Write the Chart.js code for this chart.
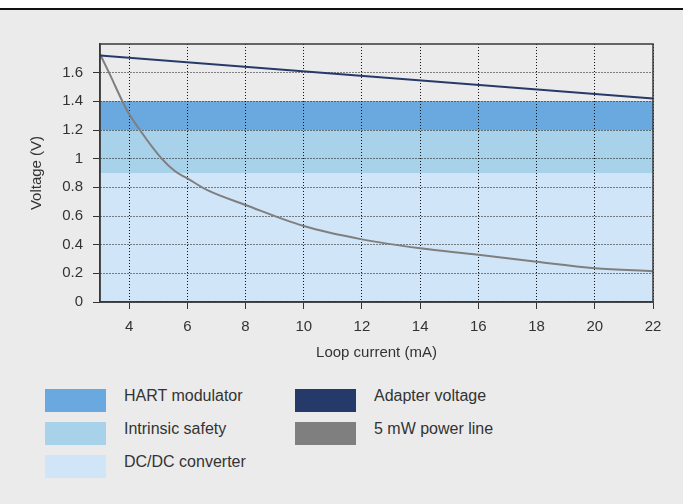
<!DOCTYPE html>
<html>
<head>
<meta charset="utf-8">
<script src="https://cdn.jsdelivr.net/npm/chart.js@4/dist/chart.umd.min.js"></script>
<style>
  html, body { margin: 0; padding: 0; background: #fff; }
  body { width: 683px; height: 504px; position: relative; overflow: hidden;
         font-family: "Liberation Sans", Arial, sans-serif; color: #333; }
  #panel { position: absolute; left: 0; top: 8px; width: 683px; height: 496px;
           border-top: 2px solid #111; background: #ebebeb; }
  #wrap { position: absolute; left: 0; top: 10px; width: 683px; height: 360px; }
  .sw { position: absolute; width: 61px; height: 23px; }
  .lbl { position: absolute; font-size: 16px; line-height: 16px; color: #333; white-space: nowrap; }
</style>
</head>
<body>
<div id="panel"></div>
<div id="wrap"><canvas id="chart"></canvas></div>
<div id="legend"></div>
<script>
// bands (V)
const bandNames = ['HART modulator', 'Intrinsic safety', 'DC/DC converter'];
const bandTops = [1.4, 1.2, 0.9];
const bandColors = ['#6aa8e0', '#a8d1ea', '#d0e5f8'];

// loop current range (mA) and tick labels
const xRange = [3, 22];
const xTicks = [4, 6, 8, 10, 12, 14, 16, 18, 20, 22];
const yTicks = [0, 0.2, 0.4, 0.6, 0.8, 1, 1.2, 1.4, 1.6];

// adapter voltage: straight line
const adapterX = [3, 22];
const adapterY = [1.72, 1.42];

// 5 mW power line
const powerX = [3, 3.31, 3.77, 3.92, 4.37, 5.12, 5.58, 6, 6.69, 8, 10, 12, 14, 16, 18, 20, 22];
const powerY = [1.73, 1.6, 1.4, 1.34, 1.2, 1.0, 0.912, 0.863, 0.78, 0.677, 0.53, 0.437, 0.375, 0.33, 0.28, 0.235, 0.215];

const lineNames = ['Adapter voltage', '5 mW power line'];
const lineColors = ['#263a6a', '#7f7f7f'];

const pts = (xs, ys) => xs.map((x, i) => ({ x, y: ys[i] }));

// frame around the plot area (axes only draw left/bottom)
const frame = {
    id: 'frame',
    afterDraw(chart) {
        const { ctx, chartArea: a } = chart;
        ctx.save();
        ctx.strokeStyle = '#3a3a3a';
        ctx.lineWidth = 1.5;
        ctx.strokeRect(a.left, a.top, a.right - a.left, a.bottom - a.top);
        ctx.restore();
    },
};

// datasets drawn last-index-first, so the widest band goes at the end
const bandSets = bandNames.map((name, i) => ({
    label: name,
    data: pts(xRange, [bandTops[i], bandTops[i]]),
    borderWidth: 0,
    pointRadius: 0,
    backgroundColor: bandColors[i],
    fill: 'origin',
})).reverse();

const tickFont = { family: '"Liberation Sans", Arial, sans-serif', size: 15 };

// v4 keeps the grid-line dash under border.dash
const gridOpts = () => ({
    color: '#111',
    tickLength: 7,
    tickColor: '#333',
    tickBorderDash: [],
});
const borderOpts = () => ({ display: true, color: '#3a3a3a', width: 1.5, dash: [1, 2] });

new Chart(document.getElementById('chart'), {
    type: 'line',
    data: {
        datasets: [
            {
                label: lineNames[0],
                data: pts(adapterX, adapterY),
                borderColor: lineColors[0],
                borderWidth: 2,
                pointRadius: 0,
                fill: false,
            },
            {
                label: lineNames[1],
                data: pts(powerX, powerY),
                borderColor: lineColors[1],
                borderWidth: 2,
                pointRadius: 0,
                cubicInterpolationMode: 'monotone',
                fill: false,
            },
            ...bandSets,
        ],
    },
    options: {
        responsive: true,
        maintainAspectRatio: false,
        animation: false,
        layout: { padding: { left: 28, right: 30, top: 34, bottom: 0 } },
        plugins: {
            legend: { display: false },
            tooltip: { enabled: false },
            // paint the bands before the grid so the dotted lines stay visible
            filler: { drawTime: 'beforeDraw' },
        },
        scales: {
            x: {
                type: 'linear',
                min: xRange[0],
                max: xRange[1],
                afterBuildTicks: (s) => { s.ticks = xTicks.map((v) => ({ value: v })); },
                afterFit: (s) => { s.height = 68; },
                grid: gridOpts(),
                border: borderOpts(),
                ticks: { color: '#333', font: tickFont, padding: 9, maxRotation: 0 },
                title: {
                    display: true,
                    text: 'Loop current (mA)',
                    color: '#333',
                    font: tickFont,
                    padding: { top: 4, bottom: 8 },
                },
            },
            y: {
                min: 0,
                max: 1.8,
                afterBuildTicks: (s) => { s.ticks = yTicks.map((v) => ({ value: v })); },
                afterFit: (s) => { s.width = 72; },
                grid: gridOpts(),
                border: borderOpts(),
                ticks: { color: '#333', font: tickFont, padding: 10, callback: (v) => `${v}` },
                title: {
                    display: true,
                    text: 'Voltage (V)',
                    color: '#333',
                    font: tickFont,
                    padding: 0,
                },
            },
        },
    },
    plugins: [frame],
});

// legend: bands in the left column, lines in the right
const legend = document.getElementById('legend');
const addItem = (x, y, color, text) => {
    legend.insertAdjacentHTML('beforeend',
        `<div class="sw" style="left:${x}px;top:${y}px;background:${color}"></div>` +
        `<div class="lbl" style="left:${x + 79}px;top:${y - 1}px">${text}</div>`);
};
bandNames.forEach((n, i) => addItem(45, 389 + i * 33, bandColors[i], n));
lineNames.forEach((n, i) => addItem(295, 389 + i * 33, lineColors[i], n));
</script>
</body>
</html>
